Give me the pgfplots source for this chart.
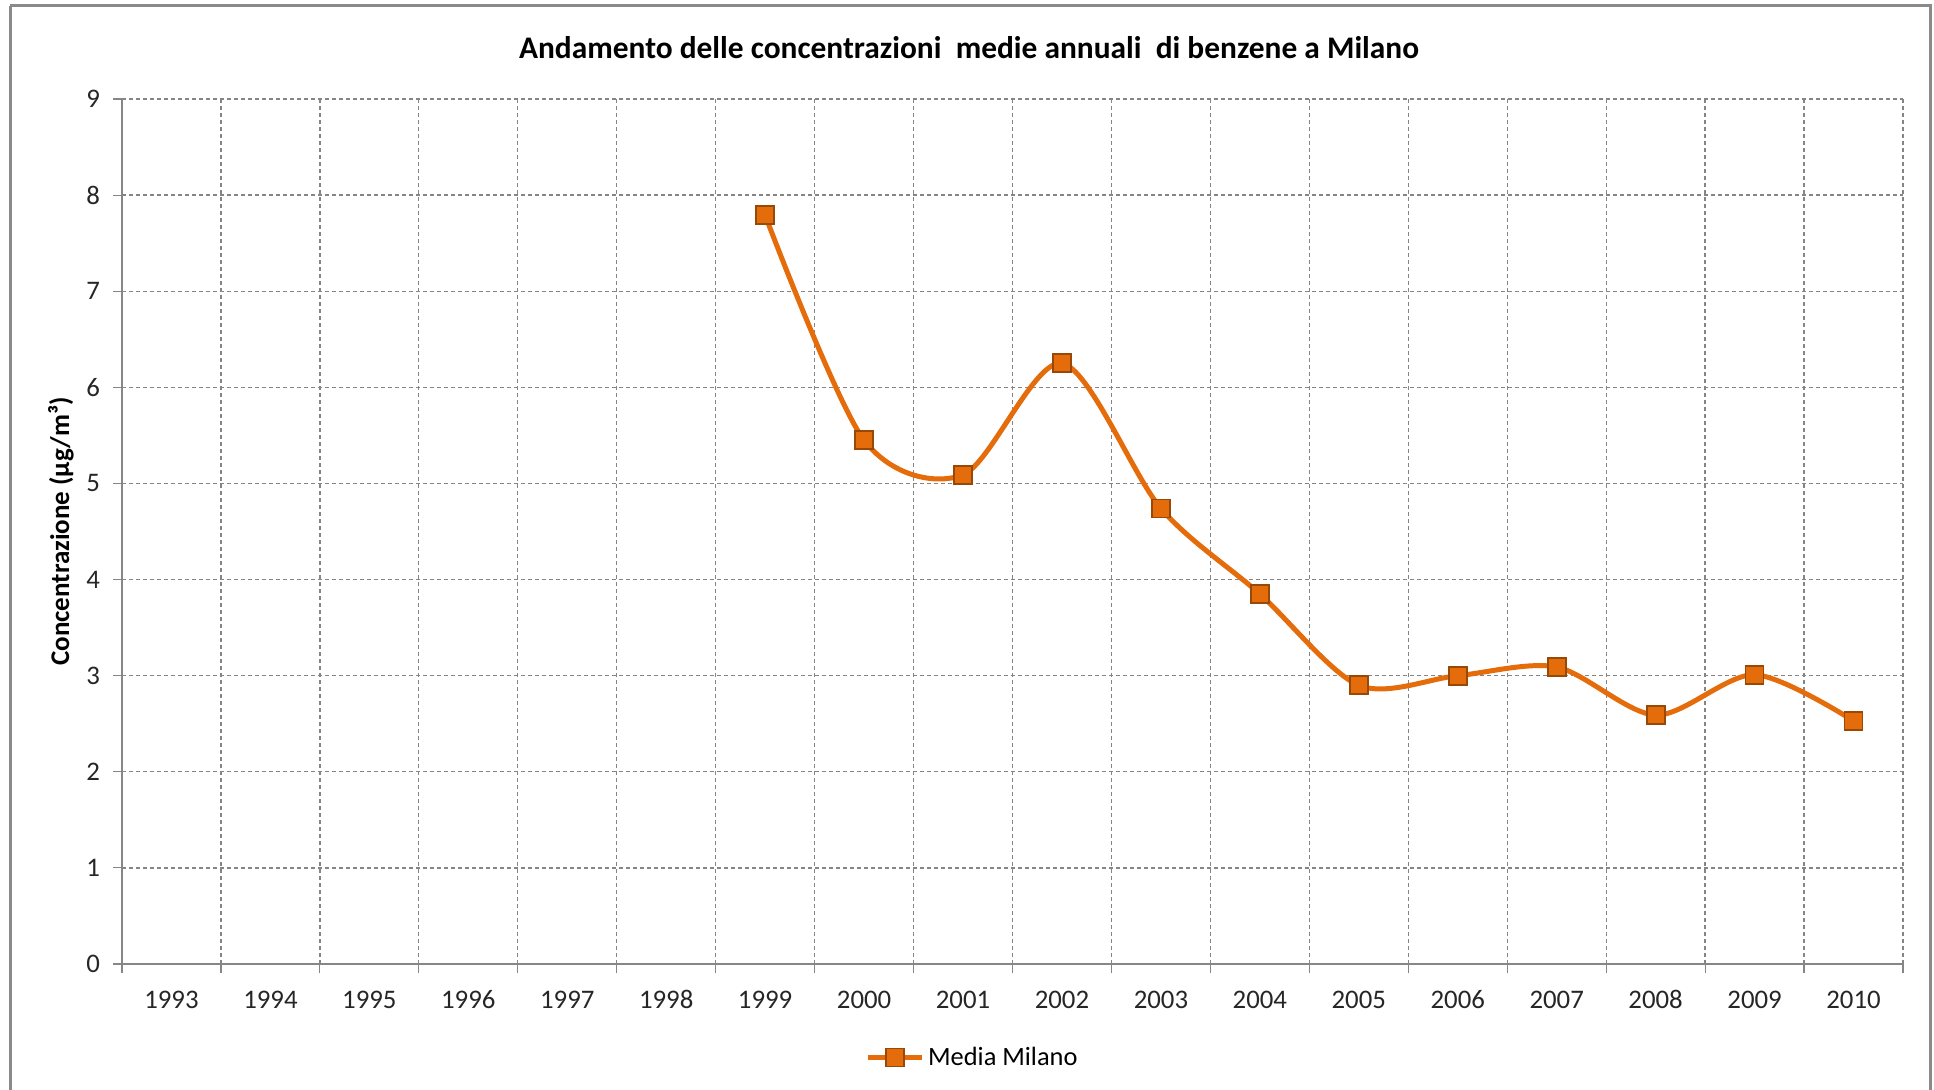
\documentclass[border=0pt]{standalone}
\usepackage{pgfplots}
\pgfplotsset{compat=1.18}
\usepackage{fontspec}
\setmainfont{Carlito}

\definecolor{serieorange}{HTML}{E46C0A}
\definecolor{markedge}{HTML}{984807}
\definecolor{axisgray}{HTML}{868686}
\definecolor{gridgray}{HTML}{858585}
\definecolor{framegray}{HTML}{8A8A8A}

% annual mean benzene concentration in Milan (µg/m³), categories 1993..2010 at 0..17
\pgfplotstableread{
idx value
6  7.79
7  5.45
8  5.09
9  6.25
10 4.74
11 3.85
12 2.90
13 3.00
14 3.09
15 2.59
16 3.01
17 2.53
}\milano

\begin{document}
\begin{tikzpicture}
\begin{scope}[x=0.5pt,y=-0.5pt]
  \useasboundingbox (0,0) rectangle (1934,1090);
  \draw[framegray, line width=1.5pt] (10,6) -- (1930,6) -- (1930,1110);
  \draw[framegray, line width=1.5pt] (10,6) -- (10,1110);
\end{scope}
\begin{axis}[
  at={(61pt,-482pt)}, anchor=south west,
  scale only axis,
  width=890.5pt, height=432.5pt,
  xmin=-0.5, xmax=17.5,
  ymin=0, ymax=9,
  axis x line*=bottom, axis y line*=left,
  axis line style={axisgray, line width=1pt},
  xtick={0,...,17},
  xticklabels={1993,1994,1995,1996,1997,1998,1999,2000,2001,2002,2003,2004,2005,2006,2007,2008,2009,2010},
  minor xtick={-0.5,0.5,...,17.5},
  major x tick style={draw=none},
  xminorgrids=true,
  ytick={0,...,9},
  ymajorgrids=true,
  tick align=outside,
  major tick length=4.5pt,
  minor tick length=4.5pt,
  tick style={axisgray, line width=0.6pt},
  grid style={gridgray, line width=0.65pt, dash pattern=on 2pt off 1.5pt},
  minor grid style={gridgray, line width=0.65pt, dash pattern=on 2pt off 1.5pt},
  /pgf/number format/assume math mode=true,
  ticklabel style={font=\fontsize{13.4}{16}\selectfont, text=black!85},
  xticklabel style={anchor=base, yshift=-17.5pt},
  yticklabel style={anchor=east, xshift=-3pt},
  every axis title shift=0pt,
  title={Andamento delle concentrazioni\ \ medie annuali\ \ di benzene a Milano},
  title style={at={(axis description cs:0.4756,1.060)}, anchor=center,
    font=\fontsize{15.7}{19}\selectfont\bfseries},
  ylabel={Concentrazione (µg/m³)},
  every axis y label/.style={at={(axis description cs:-0.0343,0.5)}, rotate=90,
    anchor=center, font=\fontsize{13.5}{16}\selectfont\bfseries},
  legend style={at={(axis description cs:0.478,-0.108)}, anchor=center,
    draw=none, fill=none, font=\fontsize{13.2}{16}\selectfont,
    legend cell align=left, inner sep=0pt},
  legend image code/.code={%
    \draw[#1, mark repeat=2, mark phase=2]
      plot coordinates {(0pt,0pt) (13.5pt,0pt) (27pt,0pt)};},
]
\addplot[serieorange, line width=2.5pt, smooth,
  mark=square*, mark size=4.5pt,
  mark options={fill=serieorange, draw=markedge, line width=0.9pt, solid}]
  table[x=idx, y=value] {\milano};
\addlegendentry{Media Milano}
\end{axis}
\end{tikzpicture}
\end{document}
